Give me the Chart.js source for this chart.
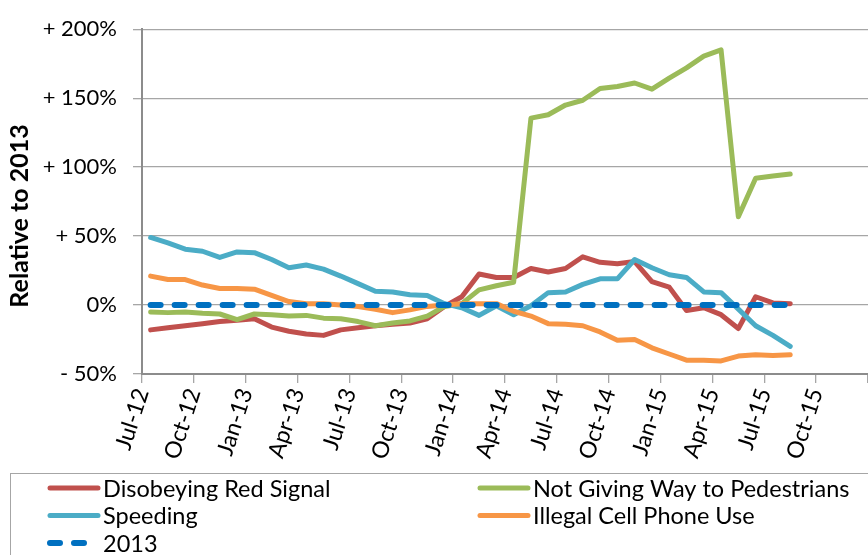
<!DOCTYPE html>
<html>
<head>
<meta charset="utf-8">
<script src="https://cdn.jsdelivr.net/npm/chart.js@4/dist/chart.umd.min.js"></script>
<style>
  html, body { margin: 0; padding: 0; background: #fff; }
  #wrap { width: 868px; height: 555px; }
</style>
</head>
<body>
<div id="wrap"><canvas id="chart" width="868" height="555"></canvas></div>
<script>
// months with data (Jul-12 .. Aug-15)
const months = ['Jul-12','Aug-12','Sep-12','Oct-12','Nov-12','Dec-12',
  'Jan-13','Feb-13','Mar-13','Apr-13','May-13','Jun-13','Jul-13','Aug-13','Sep-13','Oct-13','Nov-13','Dec-13',
  'Jan-14','Feb-14','Mar-14','Apr-14','May-14','Jun-14','Jul-14','Aug-14','Sep-14','Oct-14','Nov-14','Dec-14',
  'Jan-15','Feb-15','Mar-15','Apr-15','May-15','Jun-15','Jul-15','Aug-15'];

const redSignal = [-18, -16.5, -15, -13.5, -12, -11, -10, -16, -19, -21, -22, -18, -16.5, -15, -14, -13, -10, -1, 6,
  22.5, 20, 20, 26.5, 24, 26.5, 35, 31, 30, 31.5, 17, 13, -4, -2, -7, -17, 6, 1.5, 1];
const pedestrians = [-5, -5.5, -5, -6, -6.5, -10.5, -6.5, -7, -8, -7.5, -9.5, -10, -12, -15, -13, -11.5, -8, -1, 1,
  11, 14, 16.5, 135.5, 138, 145, 148.5, 157, 158.5, 161, 156.5, 164.5, 172, 180.5, 185, 64, 92, 93.5, 95];
const speeding = [49, 45, 40.5, 39, 34.5, 38.5, 38, 33, 27, 29, 26, 21, 15.5, 10, 9.5, 7.5, 7, 1, -2,
  -7.5, -0.5, -7, -0.5, 9, 9.5, 15, 19, 19, 33, 27, 22, 20, 9.5, 9, -3, -15, -22, -30];
const cellPhone = [21, 18.5, 18.5, 14.5, 12, 12, 11.5, 7, 2.5, 1, 1, 0, -1, -3, -5.5, -3.5, -1, 0, 1,
  1, 1, -4.5, -8, -13.5, -14, -15, -19.5, -25.5, -25, -31, -35.5, -40, -40, -40.5, -37, -36, -36.5, -36];
const base2013 = [0, 0, 0, 0, 0, 0, 0, 0, 0, 0, 0, 0, 0, 0, 0, 0, 0, 0, 0,
  0, 0, 0, 0, 0, 0, 0, 0, 0, 0, 0, 0, 0, 0, 0, 0, 0, 0, 0];

// axis ticks
const xTickLabels = ['Jul-12','Oct-12','Jan-13','Apr-13','Jul-13','Oct-13','Jan-14','Apr-14',
  'Jul-14','Oct-14','Jan-15','Apr-15','Jul-15','Oct-15'];
const yTickValues = [-50, 0, 50, 100, 150, 200];
const yTickLabels = ['- 50%', '0%', '+ 50%', '+ 100%', '+ 150%', '+ 200%'];
const yTitle = 'Relative to 2013';

const FONT = 'Lato';
const GRID = '#a6a6a6';
const AXIS = '#8c8c8c';

// each month sits in the middle of its slot on the date axis
function toPoints(values) {
  return values.map((v, i) => ({ x: i + 0.5, y: v }));
}

function lineSet(label, values, color, order, dash) {
  return {
    label: label,
    data: toPoints(values),
    borderColor: color,
    backgroundColor: color,
    borderWidth: dash ? 6 : 5,
    borderDash: dash || [],
    borderCapStyle: 'round',
    borderJoinStyle: 'round',
    pointRadius: 0,
    tension: 0,
    order: order
  };
}

// y title sits a bit lower than the axis middle, like in Excel
const sideTitle = {
  id: 'sideTitle',
  afterDraw(chart) {
    const ctx = chart.ctx;
    ctx.save();
    ctx.translate(20, 216);
    ctx.rotate(-Math.PI / 2);
    ctx.font = 'bold 25px ' + FONT;
    ctx.fillStyle = '#000';
    ctx.textAlign = 'center';
    ctx.textBaseline = 'middle';
    ctx.fillText(yTitle, 0, 0);
    ctx.restore();
  }
};

// boxed legend in two columns under the axis labels
const boxLegend = {
  id: 'boxLegend',
  afterDraw(chart) {
    const ctx = chart.ctx;
    ctx.save();
    ctx.strokeStyle = GRID;
    ctx.lineWidth = 1;
    ctx.strokeRect(10.5, 473.5, 900, 120);
    ctx.font = '23.5px ' + FONT;
    ctx.textBaseline = 'middle';
    chart.data.datasets.forEach((ds, i) => {
      const col = i % 2, row = Math.floor(i / 2);
      const x = 50 + col * 430, y = 488 + row * 27.5;
      ctx.beginPath();
      ctx.strokeStyle = ds.borderColor;
      ctx.lineWidth = ds.borderWidth;
      ctx.lineCap = 'round';
      ctx.setLineDash(ds.borderDash);
      ctx.moveTo(x, y);
      ctx.lineTo(x + 48, y);
      ctx.stroke();
      ctx.setLineDash([]);
      ctx.fillStyle = '#000';
      ctx.fillText(ds.label, x + 53, y + 1);
    });
    ctx.restore();
  }
};

Chart.defaults.font.family = FONT;
Chart.defaults.color = '#000';

new Chart(document.getElementById('chart'), {
  type: 'line',
  data: {
    datasets: [
      lineSet('Disobeying Red Signal', redSignal, '#C0504D', 5),
      lineSet('Not Giving Way to Pedestrians', pedestrians, '#9BBB59', 4),
      lineSet('Speeding', speeding, '#4BACC6', 3),
      lineSet('Illegal Cell Phone Use', cellPhone, '#F79646', 2),
      lineSet('2013', base2013, '#0070C0', 1, [10, 14])
    ]
  },
  options: {
    responsive: false,
    animation: false,
    devicePixelRatio: 1,
    layout: { padding: { top: 23, right: 0, bottom: 85, left: 0 } },
    plugins: {
      legend: { display: false },
      tooltip: { enabled: false }
    },
    scales: {
      x: {
        type: 'linear',
        min: 0,
        max: 42,
        afterFit: (scale) => {
          scale.height = 96;
          scale.paddingLeft = 0;
          scale.paddingRight = 0;
        },
        grid: { drawOnChartArea: false, drawTicks: true, tickLength: 9, color: GRID, lineWidth: 1.3 },
        border: { color: AXIS, width: 2 },
        ticks: {
          stepSize: 3,
          autoSkip: false,
          minRotation: 72,
          maxRotation: 72,
          padding: 2,
          font: { size: 23 },
          callback: (v) => xTickLabels[v / 3] || ''
        }
      },
      y: {
        min: -50,
        max: 200,
        afterFit: (scale) => { scale.width = 142; },
        grid: { color: GRID, lineWidth: 1.3, drawTicks: true, tickLength: 9 },
        border: { color: AXIS, width: 2 },
        ticks: {
          stepSize: 50,
          padding: 16,
          font: { size: 22 },
          callback: (v) => yTickLabels[yTickValues.indexOf(v)]
        }
      }
    }
  },
  plugins: [sideTitle, boxLegend]
});
</script>
</body>
</html>
